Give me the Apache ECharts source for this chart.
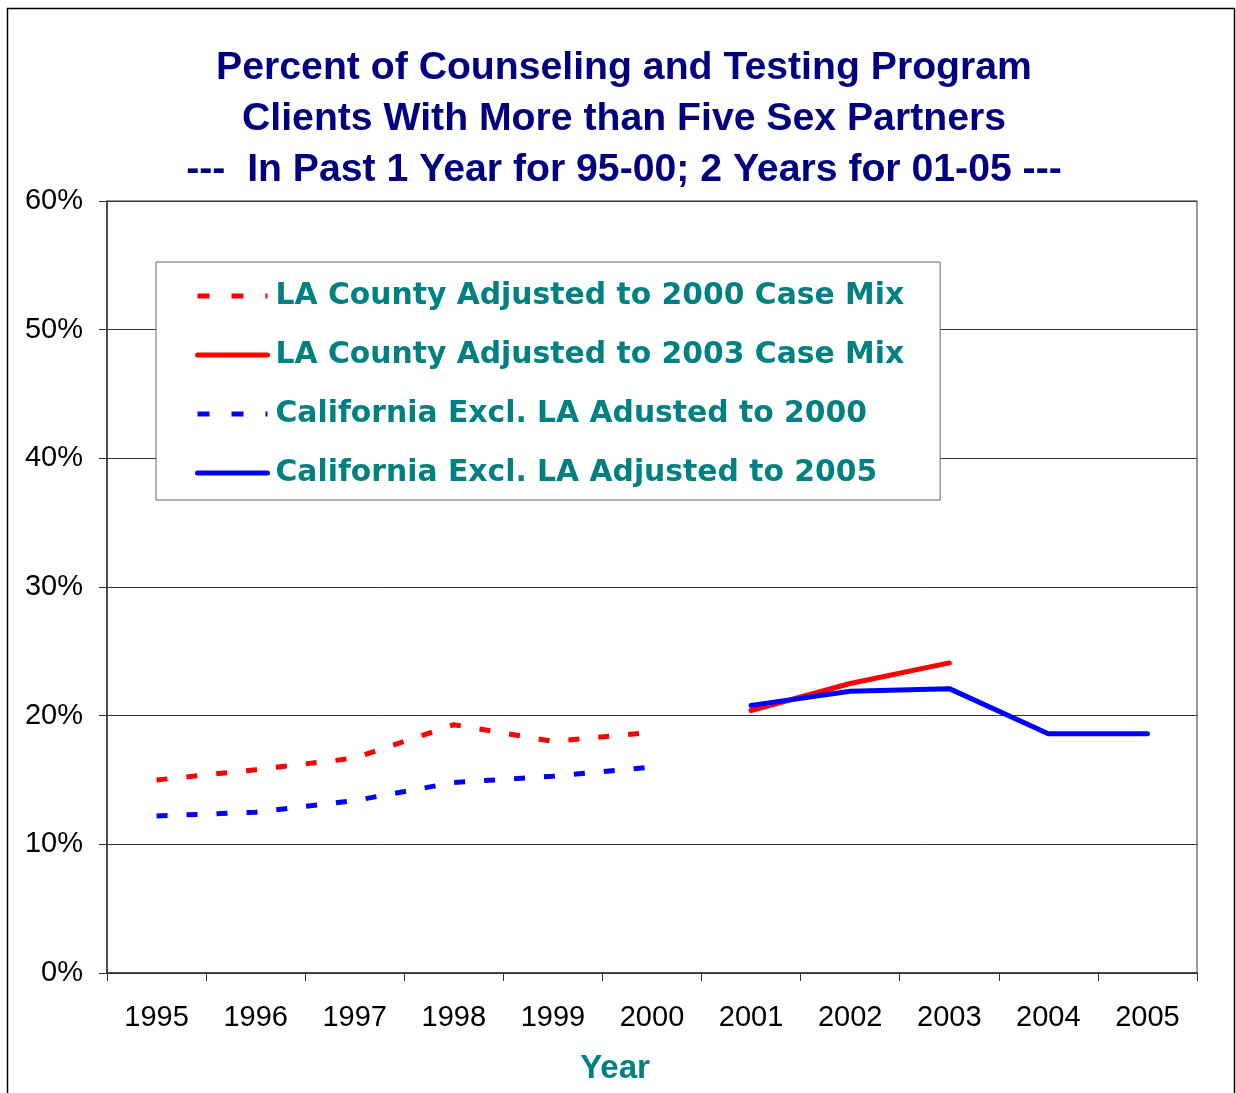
<!DOCTYPE html>
<html>
<head>
<meta charset="utf-8">
<title>Counseling and Testing Program Clients</title>
<script src="https://cdn.jsdelivr.net/npm/echarts@6/dist/echarts.min.js"></script>
<style>
  html, body { margin: 0; padding: 0; background: #fff; }
  #chart { width: 1236px; height: 1093px; }
</style>
</head>
<body>
<div id="chart"></div>
<script>
// categories
var years = ['1995', '1996', '1997', '1998', '1999', '2000', '2001', '2002', '2003', '2004', '2005'];

// series values (percent)
var laAdj2000 = [15.0, 15.8, 16.7, 19.3, 18.0, 18.7];        // 1995-2000
var laAdj2003 = [20.4, 22.5, 24.1];                          // 2001-2003
var caAdj2000 = [12.2, 12.5, 13.4, 14.8, 15.3, 16.0];        // 1995-2000
var caAdj2005 = [20.8, 21.9, 22.1, 18.6, 18.6];              // 2001-2005

var seriesNames = [
    'LA County Adjusted to 2000 Case Mix',
    'LA County Adjusted to 2003 Case Mix',
    'California Excl. LA Adusted to 2000',
    'California Excl. LA Adjusted to 2005'
];

// place a short run of values onto the year axis starting at a given year
function placeAt(startYear, values) {
    var out = [];
    for (var i = 0; i < years.length; i++) out.push(null);
    var start = years.indexOf(startYear);
    for (var j = 0; j < values.length; j++) out[start + j] = values[j];
    return out;
}

var chart = echarts.init(document.getElementById('chart'));

var dashed = [11, 19];
var legendDash = [12, 22];

var option = {
    backgroundColor: '#fff',
    animation: false,
    title: {
        text: 'Percent of Counseling and Testing Program\nClients With More than Five Sex Partners\n---  In Past 1 Year for 95-00; 2 Years for 01-05 ---',
        left: 619,
        textAlign: 'center',
        top: 38,
        textStyle: {
            fontFamily: 'Liberation Sans',
            fontSize: 39.2,
            fontWeight: 'bold',
            color: '#000080',
            lineHeight: 51
        }
    },
    graphic: [{
        type: 'rect',
        silent: true,
        shape: { x: 7.5, y: 8.5, width: 1227, height: 1200 },
        style: { fill: 'none', stroke: '#000', lineWidth: 1.5 }
    }],
    legend: {
        orient: 'vertical',
        left: 156,
        top: 262,
        padding: [14, 36, 7, 39],
        itemWidth: 70,
        itemHeight: 40,
        itemGap: 19,
        backgroundColor: '#fff',
        borderColor: '#666',
        borderWidth: 1,
        itemStyle: { opacity: 0 },
        lineStyle: { width: 5 },
        textStyle: {
            fontFamily: 'DejaVu Sans',
            fontSize: 29.8,
            fontWeight: 'bold',
            color: '#008080',
            lineHeight: 40,
            padding: [0, 0, 0, 3]
        },
        data: [
            { name: seriesNames[0], lineStyle: { type: legendDash, width: 5 } },
            { name: seriesNames[1], lineStyle: { width: 5, cap: 'round' } },
            { name: seriesNames[2], lineStyle: { type: legendDash, width: 5 } },
            { name: seriesNames[3], lineStyle: { width: 5, cap: 'round' } }
        ]
    },
    grid: {
        left: 107,
        right: 39,
        top: 201,
        bottom: 120,
        show: true,
        borderColor: '#333',
        borderWidth: 1
    },
    xAxis: {
        type: 'category',
        data: years,
        name: 'Year',
        nameLocation: 'middle',
        nameGap: 79,
        nameTextStyle: {
            fontFamily: 'Liberation Sans',
            fontSize: 33,
            fontWeight: 'bold',
            color: '#008080',
            padding: [0, 74, 0, 0]
        },
        axisLine: { lineStyle: { color: '#333', width: 1.5 } },
        axisTick: { show: true, length: 8, lineStyle: { color: '#333' } },
        axisLabel: {
            margin: 30,
            fontFamily: 'Liberation Sans',
            fontSize: 29,
            color: '#000'
        },
        splitLine: { show: false }
    },
    yAxis: {
        type: 'value',
        min: 0,
        max: 60,
        interval: 10,
        axisLine: { show: true, lineStyle: { color: '#333', width: 1.5 } },
        axisTick: { show: true, inside: false, length: 8, lineStyle: { color: '#333' } },
        axisLabel: {
            margin: 24,
            formatter: '{value}%',
            fontFamily: 'Liberation Sans',
            fontSize: 29,
            color: '#000'
        },
        splitLine: { show: true, lineStyle: { color: '#333', width: 1 } }
    },
    series: [
        {
            name: seriesNames[0],
            type: 'line',
            symbol: 'none',
            data: placeAt('1995', laAdj2000),
            lineStyle: { color: '#ff0000', width: 5, type: dashed },
            itemStyle: { color: '#ff0000' },
            z: 3
        },
        {
            name: seriesNames[1],
            type: 'line',
            symbol: 'none',
            data: placeAt('2001', laAdj2003),
            lineStyle: { color: '#ff0000', width: 5, cap: 'round', join: 'round' },
            itemStyle: { color: '#ff0000' },
            z: 3
        },
        {
            name: seriesNames[2],
            type: 'line',
            symbol: 'none',
            data: placeAt('1995', caAdj2000),
            lineStyle: { color: '#0000ff', width: 5, type: dashed },
            itemStyle: { color: '#0000ff' },
            z: 4
        },
        {
            name: seriesNames[3],
            type: 'line',
            symbol: 'none',
            data: placeAt('2001', caAdj2005),
            lineStyle: { color: '#0000ff', width: 5, cap: 'round', join: 'round' },
            itemStyle: { color: '#0000ff' },
            z: 4
        }
    ]
};

chart.setOption(option);
</script>
</body>
</html>
